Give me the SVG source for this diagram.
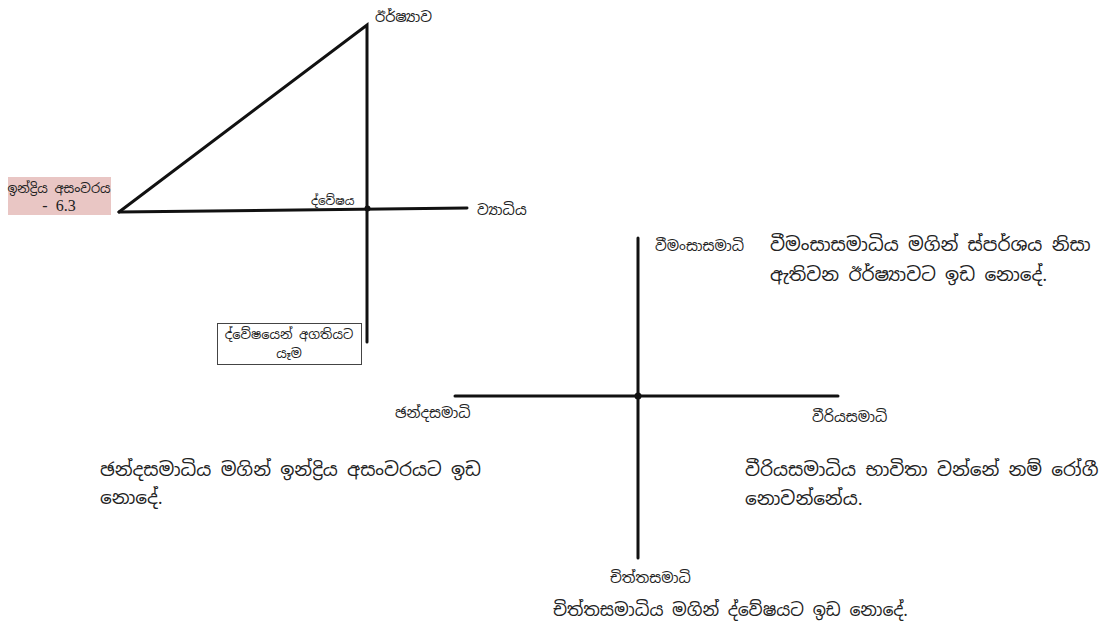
<svg xmlns="http://www.w3.org/2000/svg" width="1099" height="632" viewBox="0 0 1099 632">
<style>
text{font-family:"Noto Sans Sinhala","Iskoola Pota","Noto Serif Sinhala","Noto Sans","DejaVu Sans",sans-serif;fill:#222}
.s{font-size:12px}
.m{font-size:13px}
.l{font-size:14.5px}
.b{font-size:18.5px}
.ln{stroke:#111;stroke-width:3;fill:none;stroke-linecap:round}
.dot{fill:#111}
</style>
<rect width="1099" height="632" fill="#fff"/>
<g id="connectors">
<path class="ln" d="M119,212 L367,25 L367,342"/>
<path class="ln" d="M119,212 L467,208"/>
<path class="ln" d="M638,238 L638,558"/>
<path class="ln" d="M455,396 L838,396"/>
<circle class="dot" cx="367.5" cy="208.5" r="3"/>
<circle class="dot" cx="638" cy="396" r="3.5"/>
</g>
<g id="irshyava"><text class="l" x="375" y="22">ඊර්ෂ්‍යාව</text></g>
<g id="indriya">
<rect x="8" y="177" width="103" height="38" fill="#e9c6c4"/>
<text class="m" x="59" y="193" text-anchor="middle">ඉන්ද්‍රිය අසංවරය</text>
<text x="59" y="211" text-anchor="middle" xml:space="preserve" style="font-family:'Liberation Serif',serif;font-size:16px">-  6.3</text>
</g>
<g id="dweshaya"><text class="s" x="311" y="205">ද්වේෂය</text></g>
<g id="vyadhiya"><text class="l" x="477" y="215">ව්‍යාධිය</text></g>
<g id="agathiya">
<rect x="217.5" y="323.5" width="144" height="41" fill="#fff" stroke="#444" stroke-width="1"/>
<text class="m" x="289" y="339" text-anchor="middle">ද්වේෂයෙන් අගතියට</text>
<text class="m" x="289" y="358" text-anchor="middle">යෑම</text>
</g>
<g id="vimansa"><text class="l" x="655" y="251">වීමංසාසමාධි</text></g>
<g id="vimansa-note">
<text class="b" x="770" y="251">වීමංසාසමාධිය මගින් ස්පර්ශය නිසා</text>
<text class="b" x="770" y="281">ඇතිවන ඊර්ෂ්‍යාවට ඉඩ නොදේ.</text>
</g>
<g id="chanda"><text class="l" x="395" y="418">ඡන්දසමාධි</text></g>
<g id="viriya"><text class="l" x="812" y="422">වීරියසමාධි</text></g>
<g id="chanda-note">
<text class="b" x="100" y="476">ඡන්දසමාධිය මගින් ඉන්ද්‍රිය අසංවරයට  ඉඩ</text>
<text class="b" x="100" y="504">නොදේ.</text>
</g>
<g id="viriya-note">
<text class="b" x="745" y="476">වීරියසමාධිය භාවිතා වන්නේ නම් රෝගී</text>
<text class="b" x="745" y="505">නොවන්නේය.</text>
</g>
<g id="chitta"><text class="l" x="610" y="583">චිත්තසමාධි</text></g>
<g id="chitta-note"><text x="553" y="616" style="font-size:17.3px">චිත්තසමාධිය මගින් ද්වේෂයට ඉඩ නොදේ.</text></g>
</svg>
